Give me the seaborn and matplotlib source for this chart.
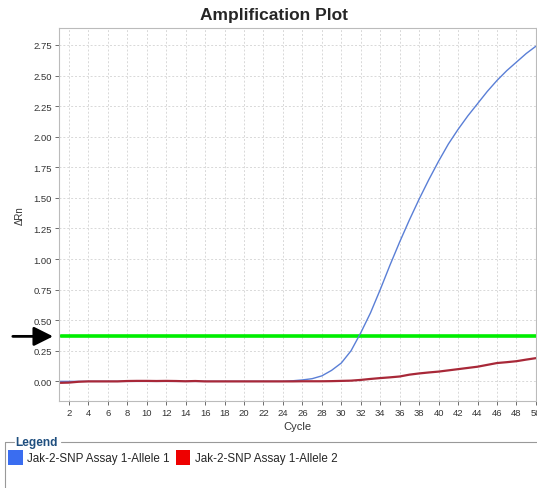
import numpy as np
import pandas as pd
import seaborn as sns
import matplotlib.pyplot as plt
from matplotlib.patches import Patch
from matplotlib.lines import Line2D

# 数据: 每个循环的 ΔRn
cycles = list(range(1, 51))
allele1 = [0.0, 0.0, 0.0, 0.0, 0.0, 0.0, 0.0, 0.0, 0.0, 0.0,
           0.0, 0.0, 0.0, 0.0, 0.0, 0.0, 0.0, 0.0, 0.0, 0.0,
           0.0, 0.0, 0.0, 0.0, 0.005, 0.012, 0.022, 0.045, 0.09, 0.15,
           0.25, 0.397, 0.56, 0.75, 0.95, 1.14, 1.32, 1.49, 1.65, 1.80,
           1.94, 2.06, 2.17, 2.27, 2.37, 2.46, 2.54, 2.61, 2.68, 2.74]
allele2 = [-0.012, -0.01, -0.003, 0.0, 0.0, 0.0, 0.0, 0.003, 0.004, 0.004,
           0.003, 0.004, 0.003, 0.001, 0.003, 0.0, 0.0, 0.0, 0.0, 0.0,
           0.0, 0.0, 0.0, 0.0, 0.0, 0.001, 0.001, 0.001, 0.002, 0.004,
           0.006, 0.012, 0.02, 0.027, 0.033, 0.04, 0.055, 0.065, 0.073, 0.08,
           0.09, 0.1, 0.11, 0.12, 0.135, 0.15, 0.157, 0.165, 0.178, 0.19]
names = ['Jak-2-SNP Assay 1-Allele 1', 'Jak-2-SNP Assay 1-Allele 2']
threshold = 0.368

df = pd.DataFrame({
    'Cycle': cycles * 2,
    'dRn': allele1 + allele2,
    'Series': [names[0]] * len(cycles) + [names[1]] * len(cycles),
})

sns.set_style('white')
plt.rcParams['font.family'] = ['Liberation Sans', 'DejaVu Sans']

fig = plt.figure(figsize=(5.37, 4.89), dpi=100)
ax = fig.add_axes([0.110, 0.178, 0.888, 0.763])

line_colors = {names[0]: '#5a7fd6', names[1]: '#a82838'}
sns.lineplot(data=df, x='Cycle', y='dRn', hue='Series', palette=line_colors,
             ax=ax, legend=False, linewidth=1.2)
for ln, w in zip(ax.get_lines(), [1.0, 1.6]):
    ln.set_linewidth(w)

# 阈值线
ax.axhline(threshold, xmin=0.004, color='#00ee00', lw=2.6, zorder=1)

ax.set_xlim(1, 50)
ax.set_ylim(-0.16, 2.89)
ax.set_xticks(np.arange(2, 51, 2))
ax.set_yticks(np.arange(0, 2.76, 0.25))
ax.set_yticklabels([f'{v:.2f}' for v in np.arange(0, 2.76, 0.25)])
ax.tick_params(axis='both', labelsize=6.8, colors='#555555', length=3,
               width=0.6, direction='out', bottom=True, left=True, pad=2)
ax.tick_params(axis='both', labelcolor='#333333')
ax.grid(True, color='#d8d8d8', linestyle=(0, (2, 2)), linewidth=0.7)
for sp in ax.spines.values():
    sp.set_color('#bbbbbb')
    sp.set_linewidth(0.8)

ax.set_xlabel('Cycle', fontsize=8, color='#333333', labelpad=3)
ax.set_ylabel('ΔRn', fontsize=7, color='#333333', labelpad=6)
fig.text(0.51, 0.968, 'Amplification Plot', fontsize=12.5, fontweight='bold',
         ha='center', va='center')

# 左侧箭头
ax.annotate('', xy=(-0.0126, threshold), xytext=(-0.097, threshold),
            xycoords=ax.get_yaxis_transform(), textcoords=ax.get_yaxis_transform(),
            arrowprops=dict(arrowstyle='-|>,head_length=0.4,head_width=0.2',
                            mutation_scale=29, lw=2, color='black',
                            shrinkA=0, shrinkB=0),
            annotation_clip=False)

# 图例框
fig.add_artist(Line2D([0.0093, 0.0093], [0.0, 0.0941], transform=fig.transFigure,
                      color='#999999', lw=0.8))
fig.add_artist(Line2D([0.0093, 0.026], [0.0941, 0.0941], transform=fig.transFigure,
                      color='#999999', lw=0.8))
fig.add_artist(Line2D([0.113, 1.0], [0.0941, 0.0941], transform=fig.transFigure,
                      color='#999999', lw=0.8))
fig.text(0.029, 0.0941, 'Legend', fontsize=8.6, fontweight='bold',
         color='#1f4f7f', va='center', ha='left')

handles = [Patch(facecolor='#3a6df0', edgecolor='none'),
           Patch(facecolor='#ee0000', edgecolor='none')]
fig.legend(handles, names, loc='upper left', bbox_to_anchor=(0.015, 0.077),
           ncol=2, frameon=False, fontsize=8.4, handlelength=1.25, handleheight=1.5,
           handletextpad=0.4, columnspacing=0.5, borderaxespad=0, borderpad=0)

plt.savefig('out.png', dpi=100)
